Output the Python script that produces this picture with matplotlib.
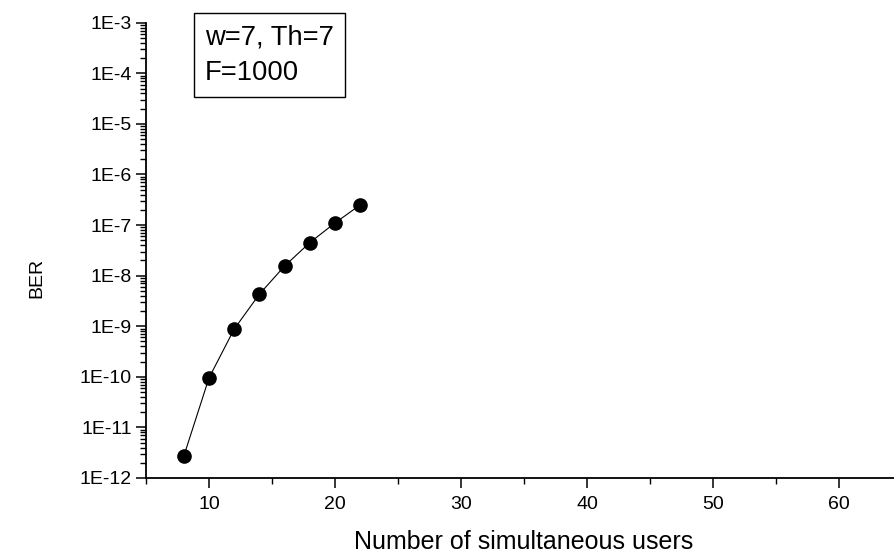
import numpy as np
import matplotlib
matplotlib.use('Agg')
import matplotlib.pyplot as plt
from matplotlib.ticker import FixedLocator, FuncFormatter, LogLocator, NullFormatter

plt.rcParams['font.family'] = ['Liberation Sans', 'DejaVu Sans']

# BER vs number of simultaneous users (w=7, Th=7, F=1000)
users = [8, 10, 12, 14, 16, 18, 20, 22]
ber = [2.7e-12, 9.5e-11, 8.8e-10, 4.3e-9, 1.55e-8, 4.5e-8, 1.1e-7, 2.5e-7]
box_text = 'w=7, Th=7\nF=1000'

fig = plt.figure(figsize=(8.94, 5.56), dpi=100)
ax = fig.add_axes([146 / 894, 78 / 556, 756 / 894, 455.3 / 556])

ax.plot(users, ber, color='black', lw=0.8, marker='o', ms=9.5,
        markerfacecolor='black', markeredgecolor='black', zorder=3)

ax.set_yscale('log')
ax.set_ylim(1e-12, 1e-3)
ax.set_xlim(5, 65)

ax.xaxis.set_major_locator(FixedLocator([10, 20, 30, 40, 50, 60]))
ax.xaxis.set_minor_locator(FixedLocator([5, 15, 25, 35, 45, 55, 65]))
ax.yaxis.set_major_locator(LogLocator(base=10, numticks=20))
ax.yaxis.set_minor_locator(LogLocator(base=10, subs=np.arange(2, 10), numticks=20))
ax.yaxis.set_major_formatter(FuncFormatter(lambda v, p: '1E%d' % int(round(np.log10(v)))))
ax.yaxis.set_minor_formatter(NullFormatter())

for s in ['top', 'right']:
    ax.spines[s].set_visible(False)
for s in ['left', 'bottom']:
    ax.spines[s].set_linewidth(1.3)

ax.tick_params(which='major', direction='out', length=7, width=1.1, labelsize=14)
ax.tick_params(axis='x', which='major', pad=6)
ax.tick_params(axis='y', which='major', pad=3)
ax.tick_params(which='minor', direction='out', length=4, width=1.0)

ax.set_xlabel('Number of simultaneous users', fontsize=18, labelpad=12)
ax.set_ylabel('BER', fontsize=14)
ax.yaxis.set_label_coords(-0.133, 0.44)

ax.text(0.078, 0.997, box_text, transform=ax.transAxes, fontsize=19.7,
        va='top', ha='left', linespacing=1.52,
        bbox=dict(boxstyle='square,pad=0.4', facecolor='white', edgecolor='black', lw=1.0))

fig.savefig('out.png', dpi=100)
